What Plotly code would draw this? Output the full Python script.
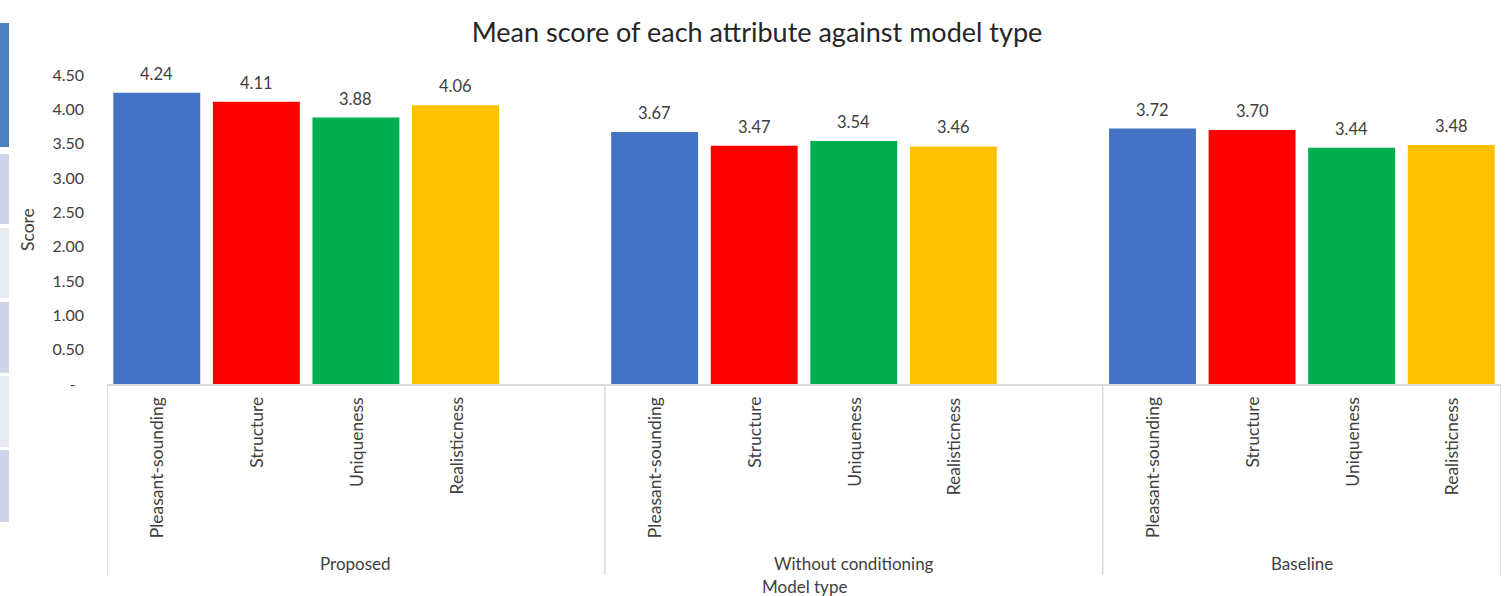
import plotly.graph_objects as go

# Chart data
model_types = ["Proposed", "Without conditioning", "Baseline"]
attributes = ["Pleasant-sounding", "Structure", "Uniqueness", "Realisticness"]
pleasant = [4.24, 3.67, 3.72]
structure = [4.11, 3.47, 3.70]
uniqueness = [3.88, 3.54, 3.44]
realisticness = [4.06, 3.46, 3.48]
y_tickvals = [0, 0.5, 1.0, 1.5, 2.0, 2.5, 3.0, 3.5, 4.0, 4.5]
y_ticktext = ["-\u00a0\u00a0", "0.50", "1.00", "1.50", "2.00", "2.50", "3.00", "3.50", "4.00", "4.50"]

series = [pleasant, structure, uniqueness, realisticness]
colors = ["#4472C4", "#FF0000", "#00B050", "#FFC000"]

# Figure geometry (pixels)
W, H = 1510, 596
ML, MR, MT, MB = 107, 9, 75, 212
PW = W - ML - MR
PH = H - MT - MB

# each model type occupies 5 slots (4 bars + a blank), the last one 4
slots_per_group = 5
group_start = [g * slots_per_group for g in range(len(model_types))]
group_edges = [-0.5, 4.5, 9.5, 13.5]

FONT = "Lato"
TXT = "#404040"

fig = go.Figure()
for i, (name, vals, col) in enumerate(zip(attributes, series, colors)):
    xs = [s + i for s in group_start]
    fig.add_trace(go.Bar(x=xs, y=vals, name=name, marker_color=col,
                         marker_line_width=0, width=0.873, showlegend=False))

annotations = []
# value labels above bars
for i, vals in enumerate(series):
    for g, v in enumerate(vals):
        annotations.append(dict(x=group_start[g] + i, y=v, xref="x", yref="y",
                                text=f"{v:.2f}", showarrow=False, yanchor="bottom",
                                yshift=7, font=dict(size=16.5, color=TXT, family=FONT)))
# rotated attribute labels under each bar
for g in range(len(model_types)):
    for i, a in enumerate(attributes):
        annotations.append(dict(x=group_start[g] + i, y=0, xref="x", yref="paper",
                                text=a, textangle=-90, showarrow=False, yanchor="top",
                                yshift=-11, font=dict(size=17.5, color=TXT, family=FONT)))
# model type labels
for g, m in enumerate(model_types):
    annotations.append(dict(x=(group_edges[g] + group_edges[g + 1]) / 2, y=0,
                            xref="x", yref="paper", text=m, showarrow=False,
                            yanchor="middle", yshift=-(563 - (H - MB)),
                            font=dict(size=17, color=TXT, family=FONT)))


def px_x(p):
    return (p - ML) / PW


def px_y(p):
    return (H - MB - p) / PH


# axis titles
annotations.append(dict(x=px_x(804), y=px_y(586), xref="paper", yref="paper",
                        text="Model type", showarrow=False, yanchor="middle",
                        font=dict(size=17, color=TXT, family=FONT)))
annotations.append(dict(x=px_x(28), y=px_y(230), xref="paper", yref="paper",
                        text="Score", textangle=-90, showarrow=False,
                        xanchor="center", yanchor="middle",
                        font=dict(size=17.5, color=TXT, family=FONT)))

shapes = []
# group dividers below the category axis
for e in group_edges:
    shapes.append(dict(type="line", xref="x", yref="paper", x0=e, x1=e,
                       y0=0, y1=px_y(575), line=dict(color="#D9D9D9", width=1.5)))

# side strip on the left edge
strip = [(23, 147, "#5080BF"), (154, 224, "#CDD5E6"), (228, 298, "#E7EBF4"),
         (302, 373, "#CDD5E6"), (376, 447, "#E7EBF4"), (450, 522, "#CDD5E6")]
for y0, y1, c in strip:
    shapes.append(dict(type="rect", xref="paper", yref="paper",
                       x0=px_x(0), x1=px_x(9), y0=px_y(y1), y1=px_y(y0),
                       fillcolor=c, line_width=0, layer="below"))

fig.update_layout(
    width=W, height=H,
    margin=dict(l=ML, r=MR, t=MT, b=MB, pad=0),
    paper_bgcolor="white", plot_bgcolor="white",
    title=dict(text="Mean score of each attribute against model type",
               x=757 / W, xanchor="center",
               y=1 - 33 / H, yanchor="middle",
               font=dict(size=27, color="#262626", family=FONT)),
    barmode="overlay",
    xaxis=dict(range=[-0.5, 13.5], showticklabels=False, showgrid=False,
               zeroline=False, showline=True, linecolor="#D9D9D9", linewidth=1.5,
               ticks=""),
    yaxis=dict(range=[0, 4.5], tickvals=y_tickvals, ticktext=y_ticktext,
               showgrid=False, zeroline=False, showline=False, ticks="",
               ticklabelstandoff=22,
               tickfont=dict(size=16, color=TXT, family=FONT)),
    annotations=annotations,
    shapes=shapes,
)

fig.write_html("out.html")
